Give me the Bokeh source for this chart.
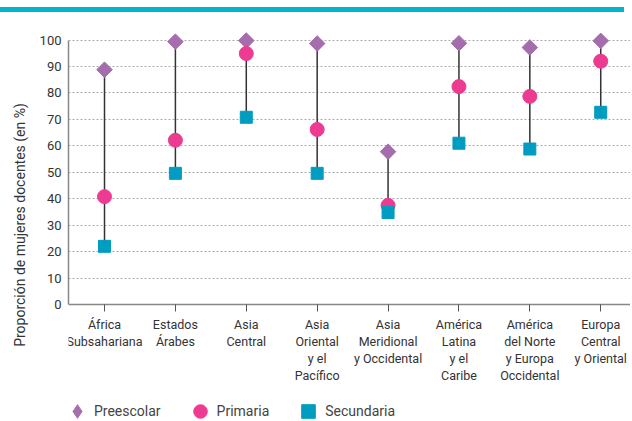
from bokeh.plotting import figure
from bokeh.models import FixedTicker, Legend, LegendItem, Div, Range1d, Title
from bokeh.layouts import column
from bokeh.embed import file_html
from bokeh.resources import INLINE
import math

regions = ["África\nSubsahariana", "Estados\nÁrabes", "Asia\nCentral",
           "Asia\nOriental\ny el\nPacífico", "Asia\nMeridional\ny Occidental",
           "América\nLatina\ny el\nCaribe", "América\ndel Norte\ny Europa\nOccidental",
           "Europa\nCentral\ny Oriental"]
preescolar = [88.8, 99.4, 99.8, 98.7, 57.8, 98.8, 97.2, 99.7]
primaria = [40.8, 62.1, 94.9, 66.2, 37.5, 82.4, 78.7, 92.0]
secundaria = [22.0, 49.6, 70.8, 49.6, 34.8, 61.0, 58.8, 72.7]
y_ticks = [0, 10, 20, 30, 40, 50, 60, 70, 80, 90, 100]
y_title = "Proporción de mujeres docentes (en %)"

FONT = "Roboto"
PURPLE, PINK, TEAL = "#A66DAE", "#EE3B92", "#009DC0"
idx = list(range(len(regions)))

# frame extends below y=0 so that the x axis (fixed at 0) and legend sit inside the window
p = figure(frame_width=562, frame_height=391, output_backend="svg", toolbar_location=None,
           x_range=Range1d(-0.508, 7.42), y_range=Range1d(-43.86, 104),
           min_border_left=68, min_border_right=0, min_border_top=17, min_border_bottom=0)
p.outline_line_color = None
p.background_fill_color = "white"
p.border_fill_color = "white"

p.segment(x0=idx, y0=secundaria, x1=idx, y1=preescolar,
          line_color="#333333", line_width=1.5)
# diamond marker (hidden under the rotated squares) gives the legend its diamond glyph
r_pre_leg = p.scatter(idx, preescolar, marker="diamond", size=10,
                      fill_color=PURPLE, line_color=PURPLE)
r_pre = p.scatter(idx, preescolar, marker="square", angle=math.pi / 4, size=11,
                  fill_color=PURPLE, line_color=PURPLE)
r_pri = p.scatter(idx, primaria, marker="circle", size=14,
                  fill_color=PINK, line_color=PINK)
r_sec = p.scatter(idx, secundaria, marker="square", size=12,
                  fill_color=TEAL, line_color=TEAL)

# x axis
p.xaxis.fixed_location = 0
p.xaxis.ticker = FixedTicker(ticks=idx)
p.xaxis.major_label_overrides = {i: regions[i] for i in idx}
p.xaxis.axis_line_color = "#888888"
p.xaxis.axis_line_width = 1.5
p.xaxis.major_tick_line_color = "#555555"
p.xaxis.major_tick_out = 7
p.xaxis.major_tick_in = 0
p.xaxis.minor_tick_line_color = None
p.xaxis.major_label_text_font = FONT
p.xaxis.major_label_text_font_size = "12.5px"
p.xaxis.major_label_text_color = "#333333"
p.xaxis.major_label_standoff = 5
p.xaxis.major_label_text_line_height = 1.15

# y axis
p.yaxis.ticker = FixedTicker(ticks=y_ticks)
p.yaxis.bounds = (0, 100)
p.yaxis.axis_line_color = "#888888"
p.yaxis.axis_line_width = 1.5
p.yaxis.major_tick_line_color = None
p.yaxis.major_tick_out = 0
p.yaxis.major_tick_in = 0
p.yaxis.minor_tick_line_color = None
p.yaxis.minor_tick_out = 0
p.yaxis.major_label_text_font = FONT
p.yaxis.major_label_text_font_size = "13px"
p.yaxis.major_label_text_color = "#333333"
p.yaxis.major_label_standoff = 7

# y-axis title, centred on the 0-100 span
yt = Title(text=y_title, align="center", offset=58, standoff=17,
           text_font=FONT, text_font_size="14px", text_font_style="normal",
           text_color="#333333")
p.add_layout(yt, "left")

p.xgrid.grid_line_color = None
p.ygrid.ticker = FixedTicker(ticks=y_ticks[1:])
p.ygrid.grid_line_color = "#aaaaaa"
p.ygrid.grid_line_dash = "2 2"
p.ygrid.grid_line_width = 1

legend = Legend(items=[LegendItem(label="Preescolar", renderers=[r_pre_leg]),
                       LegendItem(label="Primaria", renderers=[r_pri]),
                       LegendItem(label="Secundaria", renderers=[r_sec])],
                orientation="horizontal", location=(-8, -8))
legend.label_text_font = FONT
legend.label_text_font_size = "14px"
legend.label_text_color = "#444444"
legend.border_line_color = None
legend.background_fill_alpha = 0
legend.glyph_width = 34
legend.glyph_height = 34
legend.label_height = 17
legend.spacing = 22
legend.label_standoff = 0
legend.padding = 0
legend.margin = 0
p.add_layout(legend, "center")

bar = Div(text="", width=624, height=5, styles={"background-color": "#00B5CC"}, margin=(7, 0, 0, 0))

layout = column(bar, p, spacing=0)
open("out.html", "w").write(file_html(layout, INLINE))
